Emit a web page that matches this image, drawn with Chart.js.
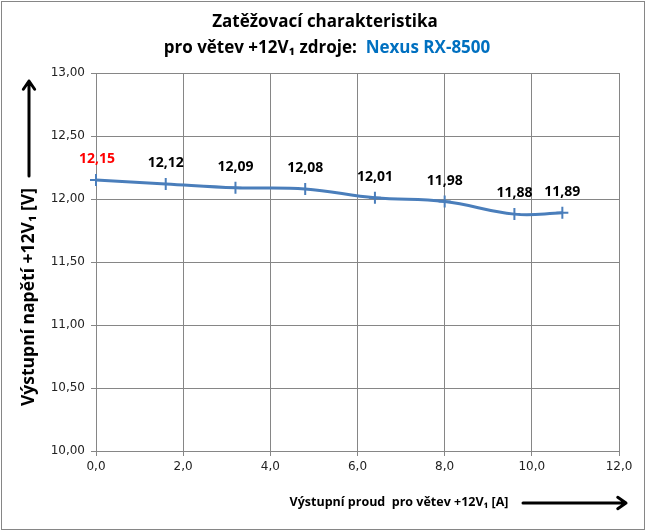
<!DOCTYPE html>
<html>
<head>
<meta charset="utf-8">
<script src="https://cdn.jsdelivr.net/npm/chart.js@4/dist/chart.umd.min.js"></script>
<style>
  html, body { margin: 0; padding: 0; background: #fff; }
  #wrap { width: 648px; height: 532px; }
</style>
</head>
<body>
<div id="wrap"><canvas id="chart" width="648" height="532"></canvas></div>
<script>
const currents = [0.0, 1.6, 3.2, 4.8, 6.4, 8.0, 9.6, 10.7];
const voltages = [12.15, 12.12, 12.09, 12.08, 12.01, 11.98, 11.88, 11.89];
const labelColors = ['#ff0000', '#000', '#000', '#000', '#000', '#000', '#000', '#000'];

const titleLine1 = 'Zatěžovací charakteristika';
const titleLine2a = 'pro větev +12V\u2081 zdroje:  ';
const titleLine2b = 'Nexus RX-8500';
const yTitle = 'Výstupní napětí +12V\u2081 [V]';
const xTitle = 'Výstupní proud  pro větev +12V\u2081 [A]';

const FONT = '"Open Sans", "Noto Sans", "DejaVu Sans", sans-serif';
const TICKFONT = '"DejaVu Sans", sans-serif';

function comma(v, d) {
    return v.toFixed(d).replace('.', ',');
}

function arrow(ctx, x1, y1, x2, y2) {
    const a = Math.atan2(y2 - y1, x2 - x1);
    ctx.save();
    ctx.strokeStyle = '#000';
    ctx.lineWidth = 3;
    ctx.lineCap = 'round';
    ctx.lineJoin = 'round';
    ctx.beginPath();
    ctx.moveTo(x1, y1);
    ctx.lineTo(x2, y2);
    ctx.moveTo(x2 - 10 * Math.cos(a - 0.6), y2 - 10 * Math.sin(a - 0.6));
    ctx.lineTo(x2, y2);
    ctx.lineTo(x2 - 10 * Math.cos(a + 0.6), y2 - 10 * Math.sin(a + 0.6));
    ctx.stroke();
    ctx.restore();
}

// titles, axis captions, arrows, outer frame
const decorations = {
    id: 'decorations',
    afterDraw(chart) {
        const ctx = chart.ctx;
        ctx.save();
        ctx.strokeStyle = '#868686';
        ctx.lineWidth = 1;
        ctx.strokeRect(1.5, 1.5, 643, 528);

        ctx.textBaseline = 'middle';
        ctx.font = 'bold 17px ' + FONT;
        ctx.fillStyle = '#000';
        ctx.textAlign = 'center';
        ctx.fillText(titleLine1, 325, 22);

        const wa = ctx.measureText(titleLine2a).width;
        const wb = ctx.measureText(titleLine2b).width;
        let x0 = 327 - (wa + wb) / 2;
        ctx.textAlign = 'left';
        ctx.fillText(titleLine2a, x0, 48);
        ctx.fillStyle = '#0070c0';
        ctx.fillText(titleLine2b, x0 + wa, 48);

        // y caption
        ctx.fillStyle = '#000';
        ctx.save();
        ctx.translate(29, 297);
        ctx.rotate(-Math.PI / 2);
        ctx.textAlign = 'center';
        ctx.font = 'bold 17.5px ' + FONT;
        ctx.fillText(yTitle, 0, 0);
        ctx.restore();
        arrow(ctx, 29, 176, 29, 81);

        // x caption
        ctx.textAlign = 'center';
        ctx.font = 'bold 12.5px ' + FONT;
        ctx.fillText(xTitle, 399, 502);
        arrow(ctx, 523, 503, 626, 503);

        // data labels
        const meta = chart.getDatasetMeta(0);
        ctx.font = 'bold 14px ' + FONT;
        meta.data.forEach((pt, i) => {
            ctx.fillStyle = labelColors[i];
            ctx.fillText(comma(voltages[i], 2), pt.x + (i === 0 ? 1 : 0), pt.y - 21);
        });
        ctx.restore();
    }
};

new Chart(document.getElementById('chart'), {
    type: 'line',
    data: {
        datasets: [{
            data: currents.map((c, i) => ({ x: c, y: voltages[i] })),
            borderColor: '#4a7ebb',
            borderWidth: 3,
            tension: 0.4,
            pointStyle: 'cross',
            pointRadius: 6,
            pointBorderWidth: 2,
            pointBorderColor: '#4a7ebb',
            clip: false,
            fill: false
        }]
    },
    options: {
        responsive: false,
        animation: false,
        layout: { padding: { left: 0, top: 73, right: 29, bottom: 0 } },
        plugins: {
            legend: { display: false },
            tooltip: { enabled: false }
        },
        scales: {
            x: {
                type: 'linear',
                min: 0,
                max: 12,
                afterFit: s => { s.height = 81; },
                grid: { color: '#868686', tickLength: 5 },
                border: { color: '#868686' },
                ticks: {
                    stepSize: 2,
                    padding: 4,
                    color: '#222',
                    font: { family: TICKFONT, size: 12 },
                    callback: v => comma(v, 1)
                }
            },
            y: {
                min: 10,
                max: 13,
                afterFit: s => { s.width = 96; },
                grid: { color: '#868686', tickLength: 5 },
                border: { color: '#868686' },
                ticks: {
                    stepSize: 0.5,
                    padding: 6,
                    color: '#222',
                    font: { family: TICKFONT, size: 12 },
                    callback: v => comma(v, 2)
                }
            }
        }
    },
    plugins: [decorations]
});
</script>
</body>
</html>
